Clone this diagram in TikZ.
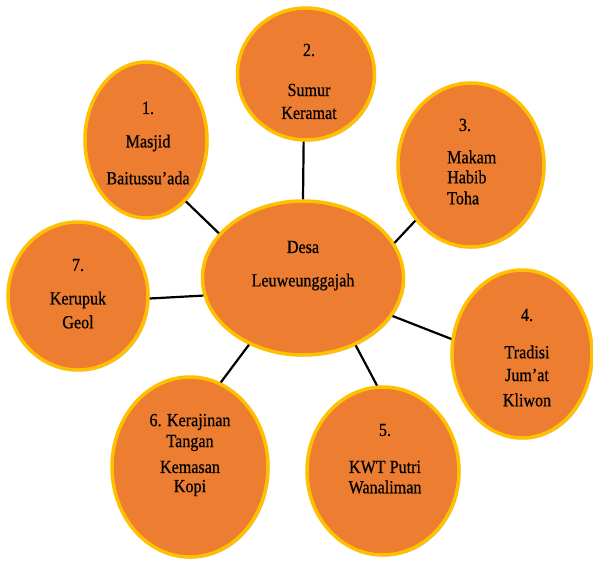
\documentclass[tikz,border=0pt]{standalone}
\usepackage{fontspec}
\setmainfont[FakeStretch=0.87,FakeBold=0.6]{Liberation Serif}
\usetikzlibrary{shapes.geometric,shadows}
\definecolor{bubble}{HTML}{ED7D31}
\definecolor{rim}{HTML}{FFC000}
\begin{document}
\begin{tikzpicture}[x=1pt,y=-1pt,
  bub/.style={ellipse, fill=bubble, draw=rim, line width=3.5pt, inner sep=0pt,
    drop shadow={shadow xshift=1.5pt, shadow yshift=-1.5pt, opacity=0.35, fill=black!60}},
  lbl/.style={font=\fontsize{18.5}{21}\selectfont, inner sep=0pt, text=black},
  link/.style={line width=2.2pt, black}]
\useasboundingbox[fill=white] (0,0) rectangle (593,561);
% bubbles
\node[bub, minimum width=201pt, minimum height=154pt] (c) at (303,278) {};
\node[bub, minimum width=122pt, minimum height=156pt] (e1) at (146,140) {};
\node[bub, minimum width=137pt, minimum height=132pt] (e2) at (306,74) {};
\node[bub, minimum width=146pt, minimum height=164pt] (e3) at (471,165) {};
\node[bub, minimum width=140pt, minimum height=168pt] (e4) at (522,354) {};
\node[bub, minimum width=152pt, minimum height=168pt] (e5) at (383,471) {};
\node[bub, minimum width=156pt, minimum height=180pt] (e6) at (190,467) {};
\node[bub, minimum width=140pt, minimum height=148pt] (e7) at (78,296) {};
% connectors
\draw[link] (c.152) -- (e1.303);
\draw[link] (c.90) -- (e2.268);
\draw[link] (c.21) -- (e3.225);
\draw[link] (c.337) -- (e4.168);
\draw[link] (c.308) -- (e5.94);
\draw[link] (c.231) -- (e6.70);
\draw[link] (c.190) -- (e7.358);
% labels
\node[lbl] (tc1) at (303,247) {Desa};
\node[lbl] (tc2) at (303,282) {Leuweunggajah};
\node[lbl] (t1a) at (148,108) {1.};
\node[lbl] (t1b) at (148,143) {Masjid};
\node[lbl] (t1c) at (148,178) {Baitussu’ada};
\node[lbl] (t2a) at (309,50) {2.};
\node[lbl] (t2b) at (309,90) {Sumur};
\node[lbl] (t2c) at (309,113) {Keramat};
\node[lbl] (t3a) at (465,125) {3.};
\node[lbl, anchor=west] (t3b) at (447,157) {Makam};
\node[lbl, anchor=west] (t3c) at (447,177) {Habib};
\node[lbl, anchor=west] (t3d) at (447,198) {Toha};
\node[lbl] (t4a) at (527,315) {4.};
\node[lbl] (t4b) at (527,352) {Tradisi};
\node[lbl] (t4c) at (527,375) {Jum’at};
\node[lbl] (t4d) at (527,400) {Kliwon};
\node[lbl] (t5a) at (385,430) {5.};
\node[lbl] (t5b) at (385,467) {KWT Putri};
\node[lbl] (t5c) at (385,487) {Wanaliman};
\node[lbl] (t6a) at (190,422) {6. Kerajinan};
\node[lbl] (t6b) at (190,443) {Tangan};
\node[lbl] (t6c) at (190,467) {Kemasan};
\node[lbl] (t6d) at (190,488) {Kopi};
\node[lbl] (t7a) at (78,265) {7.};
\node[lbl] (t7b) at (78,300) {Kerupuk};
\node[lbl] (t7c) at (78,322) {Geol};
\end{tikzpicture}
\end{document}
